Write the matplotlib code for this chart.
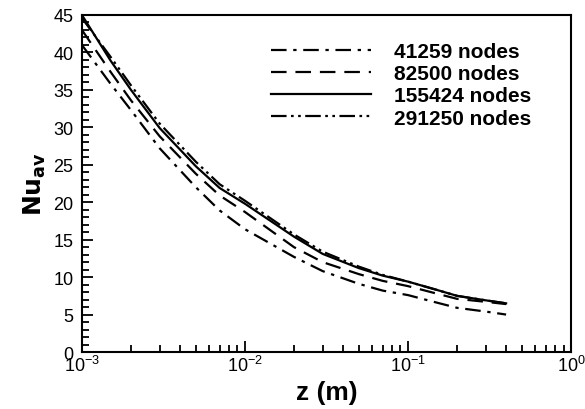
import numpy as np
import matplotlib
matplotlib.use("Agg")
import matplotlib.pyplot as plt
from matplotlib.ticker import LogLocator, MultipleLocator, FixedLocator

z = [0.001, 0.0015, 0.002, 0.003, 0.005, 0.007, 0.01, 0.02, 0.03, 0.05, 0.07, 0.1, 0.15, 0.2, 0.3, 0.4]
nu_41259 = [41.0, 35.8, 32.3, 27.2, 22.0, 18.9, 16.4, 12.7, 10.8, 9.1, 8.2, 7.6, 6.6, 5.9, 5.4, 5.0]
nu_82500 = [43.0, 37.4, 33.6, 28.8, 23.8, 20.9, 18.7, 14.0, 12.0, 10.4, 9.5, 8.8, 7.8, 7.1, 6.7, 6.4]
nu_155424 = [45.0, 38.9, 35.0, 29.9, 24.8, 21.9, 19.8, 15.4, 13.1, 11.2, 10.2, 9.4, 8.3, 7.5, 6.9, 6.5]
nu_291250 = [44.6, 39.4, 35.6, 30.5, 25.4, 22.4, 20.2, 15.7, 13.4, 11.4, 10.3, 9.4, 8.3, 7.5, 6.9, 6.5]
labels = ["41259 nodes", "82500 nodes", "155424 nodes", "291250 nodes"]

plt.rcParams['font.family'] = ['Liberation Sans', 'DejaVu Sans']
fig = plt.figure(figsize=(5.85, 4.10), dpi=100)
ax = fig.add_axes([0.140, 0.139, 0.836, 0.822])

lw = 1.6
ax.plot(z, nu_41259, color='black', lw=lw, dashes=(7, 3, 1.5, 3), label=labels[0])
ax.plot(z, nu_82500, color='black', lw=lw, dashes=(7, 4), label=labels[1])
ax.plot(z, nu_155424, color='black', lw=lw, linestyle='-', label=labels[2])
ax.plot(z, nu_291250, color='black', lw=lw, dashes=(7, 2, 1.2, 2, 1.2, 2), label=labels[3])

ax.set_xscale('log')
ax.set_xlim(1e-3, 1e0)
ax.set_ylim(0, 45)
ax.yaxis.set_major_locator(MultipleLocator(5))
ax.yaxis.set_minor_locator(MultipleLocator(1))
ax.xaxis.set_major_locator(FixedLocator([1e-3, 1e-2, 1e-1, 1e0]))
ax.xaxis.set_minor_locator(LogLocator(base=10, subs=np.arange(2, 10), numticks=20))
ax.set_xticklabels([r'$\mathregular{10^{-3}}$', r'$\mathregular{10^{-2}}$',
                    r'$\mathregular{10^{-1}}$', r'$\mathregular{10^{0}}$'])

ax.tick_params(which='both', direction='in', top=False, right=False, labelsize=13, width=1.3)
ax.tick_params(which='major', length=8)
ax.tick_params(axis='x', which='major', pad=2)
ax.tick_params(axis='y', which='major', pad=6)
ax.tick_params(which='minor', length=5)
for s in ax.spines.values():
    s.set_linewidth(1.5)

ax.set_xlabel('z (m)', fontsize=19, fontweight='bold', labelpad=4)
ax.set_ylabel(r'$\mathbf{Nu_{av}}$', fontsize=18, labelpad=4)

leg = ax.legend(loc='upper center', bbox_to_anchor=(0.652, 0.975), frameon=False,
                prop={'weight': 'bold', 'size': 15}, handlelength=4.8,
                handletextpad=1.1, labelspacing=0.15)

fig.savefig('out.png', dpi=100)
